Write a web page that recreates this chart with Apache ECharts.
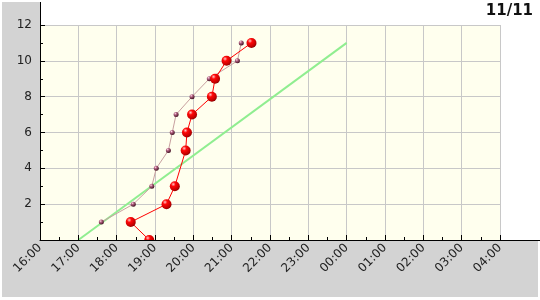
<!DOCTYPE html>
<html>
<head>
<meta charset="utf-8">
<script src="https://cdn.jsdelivr.net/npm/echarts@6/dist/echarts.min.js"></script>
<style>
html,body{margin:0;padding:0;background:#fff;}
#c{width:540px;height:300px;}
</style>
</head>
<body>
<div id="c"></div>
<script>
// ---- data ----
const titleText = '11/11';
const redTimes = ['18:51','18:22','19:18','19:31','19:48','19:50','19:58','20:29','20:34','20:52','21:31'];
const redValues = [0,1,2,3,5,6,7,8,9,10,11];
const pinkTimes = ['17:36','18:26','18:55','19:02','19:21','19:27','19:33','19:58','20:25','21:09','21:15'];
const pinkValues = [1,2,3,4,5,6,7,8,9,10,11];
const greenTimes = ['17:00','00:00'];
const greenValues = [0,11];
const xStart = '16:00';
const xEnd = '04:00';
const yTicks = [0,2,4,6,8,10,12];

function parseT(s){
  const p = s.split(':').map(Number);
  let v = p[0] + p[1]/60;
  if (v < 12) v += 24;
  return v;
}
function pairs(times, vals){ return times.map((t,i)=>[parseT(t), vals[i]]); }
function fmtX(v){
  const h = ((Math.round(v) % 24) + 24) % 24;
  return (h < 10 ? '0' : '') + h + ':00';
}

const FONT = 'DejaVu Sans';
const chart = echarts.init(document.getElementById('c'), null, {renderer:'canvas'});
const xmin = parseT(xStart), xmax = parseT(xEnd);
const ymin = yTicks[0], ymax = yTicks[yTicks.length-1];

const redBall = {type:'radial', x:0.35, y:0.3, r:0.75, colorStops:[
  {offset:0,color:'#ffc8c8'},{offset:0.3,color:'#ff0808'},{offset:0.8,color:'#c00000'},{offset:1,color:'#800000'}]};
const pinkBall = {type:'radial', x:0.35, y:0.3, r:0.75, colorStops:[
  {offset:0,color:'#ffd8e8'},{offset:0.35,color:'#b06080'},{offset:1,color:'#3a0a1a'}]};

chart.setOption({
  animation:false,
  backgroundColor:'#ffffff',
  title:{text:titleText, right:7, top:4, padding:0, textStyle:{fontFamily:FONT, fontSize:15, fontWeight:'bold', color:'#111'}},
  grid:{left:40, right:40, top:25, bottom:60, show:true, backgroundColor:'#ffffee', borderWidth:0, containLabel:false},
  xAxis:[
    {type:'value', min:xmin, max:xmax, interval:1, z:0,
     axisLine:{show:false}, axisTick:{show:false}, axisLabel:{show:false},
     splitLine:{show:true, lineStyle:{color:'#c8c8c8', width:1}}},
    {type:'value', min:xmin, max:xmax, interval:1, position:'bottom', z:10,
     axisLine:{show:true, onZero:false, lineStyle:{color:'#000', width:1}},
     axisTick:{show:true, inside:true, length:5, lineStyle:{color:'#000'}},
     minorTick:{show:true, splitNumber:2, length:3, lineStyle:{color:'#000'}},
     splitLine:{show:false},
     axisLabel:{show:true, rotate:45, margin:6, formatter:fmtX, fontFamily:FONT, fontSize:12, color:'#222'}}
  ],
  yAxis:[
    {type:'value', min:ymin, max:ymax, interval:2, z:0,
     axisLine:{show:false}, axisTick:{show:false}, axisLabel:{show:false},
     splitLine:{show:true, lineStyle:{color:'#c8c8c8', width:1}}},
    {type:'value', min:ymin, max:ymax, interval:2, position:'left', z:10,
     axisLine:{show:true, onZero:false, lineStyle:{color:'#000', width:1}},
     axisTick:{show:true, inside:true, length:5, lineStyle:{color:'#000'}},
     minorTick:{show:true, splitNumber:2, length:3, lineStyle:{color:'#000'}},
     splitLine:{show:false},
     axisLabel:{show:true, margin:8, showMinLabel:false, fontFamily:FONT, fontSize:12, color:'#222'}}
  ],
  graphic:[
    {type:'rect', z:-1, shape:{x:2, y:2, width:38, height:295}, style:{fill:'#d3d3d3'}},
    {type:'rect', z:5, shape:{x:2, y:240, width:536, height:57}, style:{fill:'#d3d3d3'}},
    {type:'line', z:20, shape:{x1:40.5, y1:2, x2:40.5, y2:25}, style:{stroke:'#000', lineWidth:1}},
    {type:'line', z:20, shape:{x1:500, y1:240.5, x2:540, y2:240.5}, style:{stroke:'#000', lineWidth:1}}
  ],
  series:[
    {type:'line', name:'green', xAxisIndex:0, yAxisIndex:0, data:pairs(greenTimes, greenValues),
     symbol:'none', z:2, lineStyle:{color:'#90ee90', width:2}, emphasis:{disabled:true}},
    {type:'line', name:'pink', xAxisIndex:0, yAxisIndex:0, data:pairs(pinkTimes, pinkValues),
     symbol:'circle', symbolSize:5, z:3, itemStyle:{color:pinkBall},
     lineStyle:{color:'#c8a0a0', width:1}, emphasis:{disabled:true}},
    {type:'line', name:'red', xAxisIndex:0, yAxisIndex:0, data:pairs(redTimes, redValues),
     symbol:'circle', symbolSize:10, z:4, itemStyle:{color:redBall},
     lineStyle:{color:'#ff0000', width:1}, emphasis:{disabled:true}}
  ]
});
</script>
</body>
</html>
